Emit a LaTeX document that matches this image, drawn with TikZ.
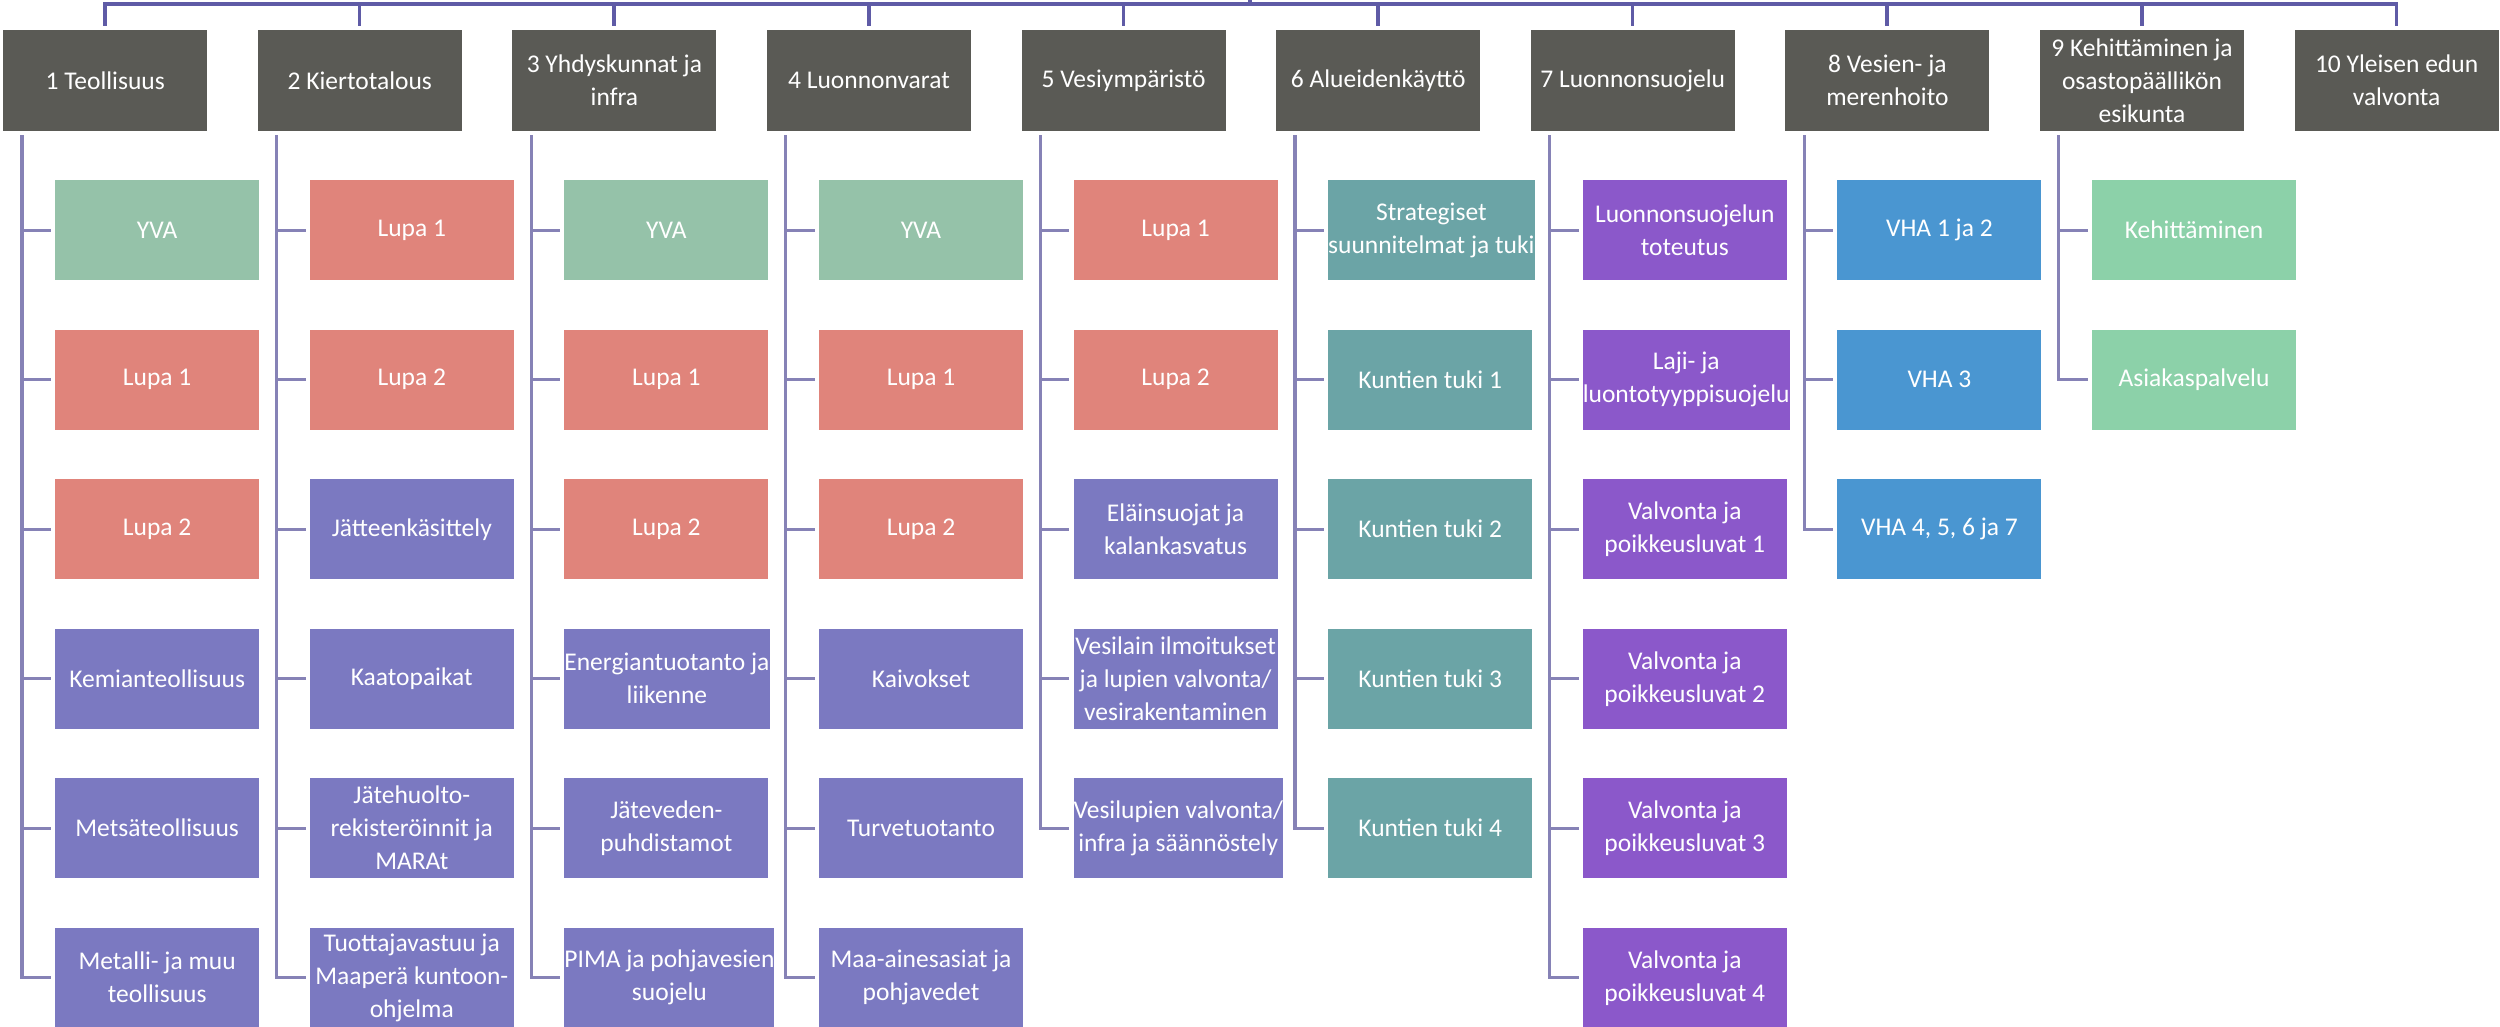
\documentclass[tikz,border=0pt]{standalone}
\usepackage{fontspec}
\setmainfont{Carlito}
\definecolor{hdr}{HTML}{5A5A55}
\definecolor{barc}{HTML}{5F5BA6}
\definecolor{kidc}{HTML}{8682B6}
\definecolor{yvac}{HTML}{95C2A9}
\definecolor{lupac}{HTML}{E0847B}
\definecolor{slatec}{HTML}{7B79C1}
\definecolor{tealc}{HTML}{6BA4A6}
\definecolor{purpc}{HTML}{8B58CA}
\definecolor{bluec}{HTML}{4A96D1}
\definecolor{lgreenc}{HTML}{8CD1A9}
\newcommand\boxfont{\fontsize{25.5}{33}\selectfont}
\tikzset{
  boxbase/.style={text=white, inner sep=0pt, align=center, font=\boxfont,
    minimum width=204pt, minimum height=100pt, anchor=north west},
  head/.style={boxbase, fill=hdr, minimum height=101pt},
  yva/.style={boxbase, fill=yvac},
  lupa/.style={boxbase, fill=lupac},
  slate/.style={boxbase, fill=slatec},
  teal/.style={boxbase, fill=tealc},
  purp/.style={boxbase, fill=purpc},
  blu/.style={boxbase, fill=bluec},
  lgreen/.style={boxbase, fill=lgreenc},
  barline/.style={draw=barc, line width=3.5pt},
  kidline/.style={draw=kidc, line width=3.2pt, shorten >=4pt},
}
\newcommand\mkhead[2]{%
  \pgfmathsetmacro\hx{3+(#1-1)*254.6}%
  \node[head] (h#1) at (\hx,30) {#2};%
  \coordinate (t#1) at (\hx+102,26);%
  \draw[barline] (bar) -| (t#1);%
  \coordinate (v#1) at (\hx+19,135);%
}
\newcommand\mkkid[4]{%
  \pgfmathsetmacro\kx{55+(#1-1)*254.6}%
  \pgfmathsetmacro\ky{180+(#2-1)*149.5}%
  \node[#3] (c#1-#2) at (\kx,\ky) {#4};%
  \draw[kidline] (v#1) |- (c#1-#2.west);%
}
\begin{document}
\begin{tikzpicture}[x=1pt,y=-1pt]
\useasboundingbox[fill=white] (0,0) rectangle (2500,1026);
\coordinate (root) at (1250,0);
\coordinate (bar) at (1250,4);
\draw[barline] (root) -- (bar);
\mkhead{1}{1 Teollisuus}
\mkhead{2}{2 Kiertotalous}
\mkhead{3}{3 Yhdyskunnat ja\\infra}
\mkhead{4}{4 Luonnonvarat}
\mkhead{5}{5 Vesiympäristö}
\mkhead{6}{6 Alueidenkäyttö}
\mkhead{7}{7 Luonnonsuojelu}
\mkhead{8}{8 Vesien- ja\\merenhoito}
\mkhead{9}{9 Kehittäminen ja\\osastopäällikön\\esikunta}
\mkhead{10}{10 Yleisen edun\\valvonta}
% column 1
\mkkid{1}{1}{yva}{YVA}
\mkkid{1}{2}{lupa}{Lupa 1}
\mkkid{1}{3}{lupa}{Lupa 2}
\mkkid{1}{4}{slate}{Kemianteollisuus}
\mkkid{1}{5}{slate}{Metsäteollisuus}
\mkkid{1}{6}{slate}{Metalli- ja muu\\teollisuus}
% column 2
\mkkid{2}{1}{lupa}{Lupa 1}
\mkkid{2}{2}{lupa}{Lupa 2}
\mkkid{2}{3}{slate}{Jätteenkäsittely}
\mkkid{2}{4}{slate}{Kaatopaikat}
\mkkid{2}{5}{slate}{Jätehuolto-\\rekisteröinnit ja\\MARAt}
\mkkid{2}{6}{slate}{Tuottajavastuu ja\\Maaperä kuntoon-\\ohjelma}
% column 3
\mkkid{3}{1}{yva}{YVA}
\mkkid{3}{2}{lupa}{Lupa 1}
\mkkid{3}{3}{lupa}{Lupa 2}
\mkkid{3}{4}{slate}{Energiantuotanto ja\\liikenne}
\mkkid{3}{5}{slate}{Jäteveden-\\puhdistamot}
\mkkid{3}{6}{slate}{PIMA ja pohjavesien\\suojelu}
% column 4
\mkkid{4}{1}{yva}{YVA}
\mkkid{4}{2}{lupa}{Lupa 1}
\mkkid{4}{3}{lupa}{Lupa 2}
\mkkid{4}{4}{slate}{Kaivokset}
\mkkid{4}{5}{slate}{Turvetuotanto}
\mkkid{4}{6}{slate}{Maa-ainesasiat ja\\pohjavedet}
% column 5
\mkkid{5}{1}{lupa}{Lupa 1}
\mkkid{5}{2}{lupa}{Lupa 2}
\mkkid{5}{3}{slate}{Eläinsuojat ja\\kalankasvatus}
\mkkid{5}{4}{slate}{Vesilain ilmoitukset\\ja lupien valvonta/\\vesirakentaminen}
\mkkid{5}{5}{slate}{Vesilupien valvonta/\\infra ja säännöstely}
% column 6
\mkkid{6}{1}{teal}{Strategiset\\suunnitelmat ja tuki}
\mkkid{6}{2}{teal}{Kuntien tuki 1}
\mkkid{6}{3}{teal}{Kuntien tuki 2}
\mkkid{6}{4}{teal}{Kuntien tuki 3}
\mkkid{6}{5}{teal}{Kuntien tuki 4}
% column 7
\mkkid{7}{1}{purp}{Luonnonsuojelun\\toteutus}
\mkkid{7}{2}{purp}{Laji- ja\\luontotyyppisuojelu}
\mkkid{7}{3}{purp}{Valvonta ja\\poikkeusluvat 1}
\mkkid{7}{4}{purp}{Valvonta ja\\poikkeusluvat 2}
\mkkid{7}{5}{purp}{Valvonta ja\\poikkeusluvat 3}
\mkkid{7}{6}{purp}{Valvonta ja\\poikkeusluvat 4}
% column 8
\mkkid{8}{1}{blu}{VHA 1 ja 2}
\mkkid{8}{2}{blu}{VHA 3}
\mkkid{8}{3}{blu}{VHA 4, 5, 6 ja 7}
% column 9
\mkkid{9}{1}{lgreen}{Kehittäminen}
\mkkid{9}{2}{lgreen}{Asiakaspalvelu}
\end{tikzpicture}
\end{document}
